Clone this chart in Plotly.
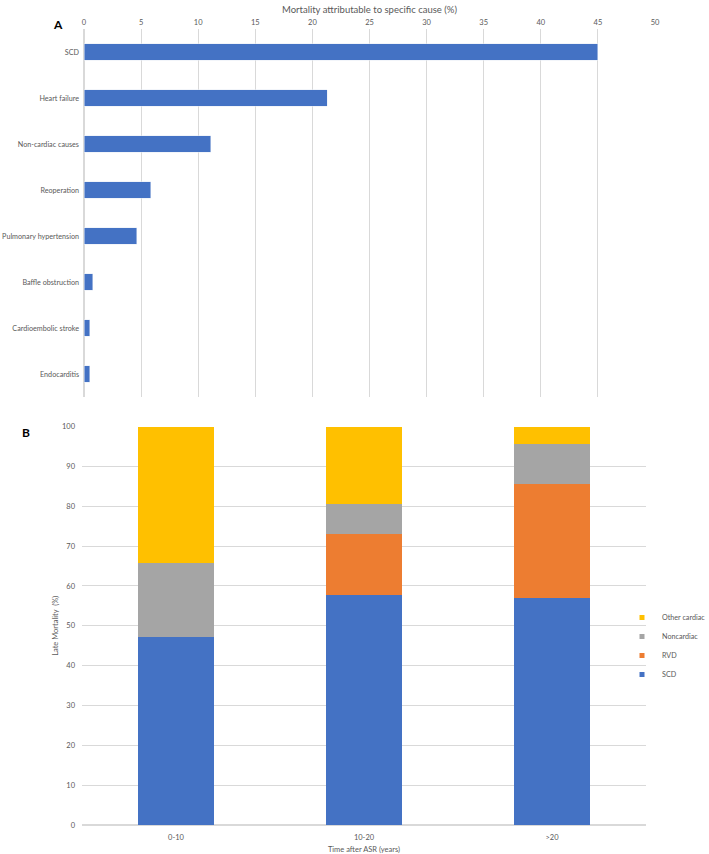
import plotly.graph_objects as go

# Panel A data
causes = ["SCD", "Heart failure", "Non-cardiac causes", "Reoperation",
          "Pulmonary hypertension", "Baffle obstruction", "Cardioembolic stroke", "Endocarditis"]
cause_pct = [45.0, 21.3, 11.1, 5.85, 4.6, 0.75, 0.5, 0.5]
a_ticks = [0, 5, 10, 15, 20, 25, 30, 35, 40, 45, 50]

# Panel B data
periods = ["0-10", "10-20", ">20"]
scd = [47.3, 57.6, 57.0]
rvd = [0.0, 15.4, 28.5]
noncardiac = [18.4, 7.6, 10.1]
other_cardiac = [34.3, 19.4, 4.4]
b_ticks = [0, 10, 20, 30, 40, 50, 60, 70, 80, 90, 100]

FONT = "Lato, Open Sans, sans-serif"
TXT = "#595959"
GRID = "#d9d9d9"
W, H = 709, 854

fig = go.Figure()

fig.add_trace(go.Bar(
    y=causes, x=cause_pct, orientation="h", marker_color="#4472C4",
    xaxis="x", yaxis="y", showlegend=False, hoverinfo="x+y"))

series = [("SCD", scd, "#4472C4"), ("RVD", rvd, "#ED7D31"),
          ("Noncardiac", noncardiac, "#A5A5A5"),
          ("Other cardiac", other_cardiac, "#FFC000")]
for name, vals, col in series:
    fig.add_trace(go.Bar(x=periods, y=vals, name=name, marker_color=col,
                         marker_line_width=0, xaxis="x2", yaxis="y2",
                         legendgroup=name, showlegend=False))
# legend entries with small square swatches
for name, vals, col in series:
    fig.add_trace(go.Scatter(x=[None], y=[None], mode="markers", name=name,
                             marker=dict(symbol="square", size=5, color=col),
                             xaxis="x2", yaxis="y2", legendgroup=name,
                             showlegend=True, hoverinfo="skip"))

fig.update_layout(
    width=W, height=H, margin=dict(l=0, r=0, t=0, b=0, autoexpand=False),
    paper_bgcolor="white", plot_bgcolor="white",
    font=dict(family=FONT, size=8, color=TXT),
    barmode="stack", bargap=0.6,
    xaxis=dict(domain=[84 / W, 655 / W], anchor="y", side="top", range=[0, 50],
               tickvals=a_ticks, showgrid=True, gridcolor=GRID, gridwidth=1,
               zeroline=True, zerolinecolor=GRID, showline=False, ticks="",
               automargin=False, tickfont=dict(size=7.5, color=TXT),
               ticklabelstandoff=2,
               title=dict(text="Mortality attributable to specific cause (%)",
                          font=dict(size=9.5, color=TXT), standoff=2)),
    yaxis=dict(domain=[1 - 397 / H, 1 - 29 / H], anchor="x", automargin=False,
               autorange="reversed", showgrid=False, showline=False, ticks="",
               ticklabelstandoff=4, tickfont=dict(size=7.2, color=TXT)),
    xaxis2=dict(domain=[82 / W, 646 / W], anchor="y2", showgrid=False,
                showline=False, ticks="", automargin=False, ticklabelstandoff=6,
                tickfont=dict(size=7.5, color=TXT),
                title=dict(text="Time after ASR (years)", font=dict(size=7.5, color=TXT),
                           standoff=6)),
    yaxis2=dict(domain=[1 - 825 / H, 1 - 426.5 / H], anchor="x2", range=[0, 100],
                tickvals=b_ticks, showgrid=True, gridcolor=GRID, zeroline=True,
                zerolinecolor=GRID, showline=False, ticks="", automargin=False,
                ticklabelstandoff=6, tickfont=dict(size=7.5, color=TXT),
                title=dict(text="Late Mortality  (%)", font=dict(size=7.5, color=TXT),
                           standoff=2)),
    legend=dict(x=622 / W, y=1 - 603 / H, xanchor="left", yanchor="top",
                traceorder="reversed", font=dict(size=7.2, color=TXT),
                itemwidth=30, tracegroupgap=0, bgcolor="rgba(0,0,0,0)"),
    annotations=[
        dict(text="<b>A</b>", x=58 / W, y=1 - 24 / H, xref="paper", yref="paper",
             xanchor="center", yanchor="middle", showarrow=False,
             font=dict(size=12, color="black", family=FONT)),
        dict(text="<b>B</b>", x=26 / W, y=1 - 432 / H, xref="paper", yref="paper",
             xanchor="center", yanchor="middle", showarrow=False,
             font=dict(size=12, color="black", family=FONT)),
    ],
)

fig.update_traces(selector=dict(xaxis="x"), width=0.35)

fig.write_html("out.html", config={"displayModeBar": False},
               post_script="document.body.style.margin='0';")
